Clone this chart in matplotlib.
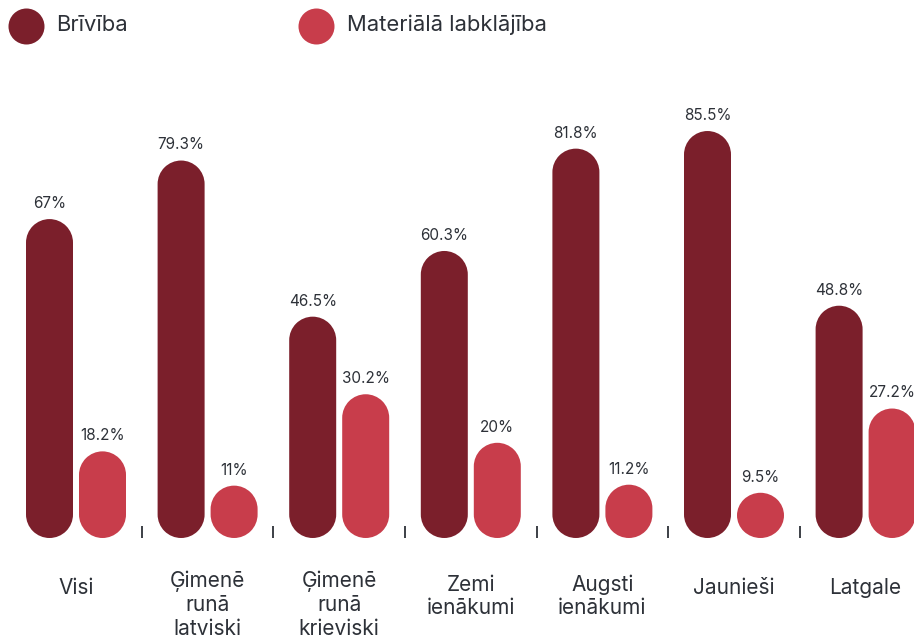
"""
Brīvība vs materiālā labklājība, pill-shaped grouped bars
"""
import matplotlib
matplotlib.use("Agg")
import matplotlib.pyplot as plt
import numpy as np
from matplotlib.patches import PathPatch
from matplotlib.path import Path
from matplotlib.transforms import Affine2D

plt.rcParams['font.family'] = ['Inter', 'DejaVu Sans']

categories = ['Visi', 'Ģimenē\nrunā\nlatviski', 'Ģimenē\nrunā\nkrieviski',
              'Zemi\nienākumi', 'Augsti\nienākumi', 'Jaunieši', 'Latgale']
briviba = [67, 79.3, 46.5, 60.3, 81.8, 85.5, 48.8]
labklajiba = [18.2, 11, 30.2, 20, 11.2, 9.5, 27.2]
briviba_labels = ['67%', '79.3%', '46.5%', '60.3%', '81.8%', '85.5%', '48.8%']
labklajiba_labels = ['18.2%', '11%', '30.2%', '20%', '11.2%', '9.5%', '27.2%']
series_names = ['Brīvība', 'Materiālā labklājība']

dark = '#7b1f2b'
light = '#c83d4b'
txt = '#2d3138'

W, H = 914, 643
fig = plt.figure(figsize=(W / 100, H / 100), dpi=100)
ax = fig.add_axes([0, 0, 1, 1])
ax.axis('off')

# pixel layout: group pitch 131.6px, 4.76px per percent, baseline 105px from bottom
gx0, gstep, ypx, base = 76, 131.6, 4.76, 105
ax.set_xlim(-gx0 / gstep, (W - gx0) / gstep)
ax.set_ylim(-base / ypx, (H - base) / ypx)

bw = 47 / gstep          # bar width in group units
off = 26.5 / gstep       # bar centre offset
ry = 23.5 / ypx          # cap radius in percent units


def pill(x, v, color):
    # one closed path: top half-ellipse + bottom half-ellipse
    eh = min(2 * ry, v) / 2
    top = Path.arc(0, 180).transformed(
        Affine2D().scale(bw / 2, eh).translate(x, v - eh))
    bot = Path.arc(180, 360).transformed(
        Affine2D().scale(bw / 2, eh).translate(x, eh))
    verts = np.concatenate([top.vertices, bot.vertices, top.vertices[:1]])
    codes = np.concatenate([top.codes, bot.codes, [Path.CLOSEPOLY]])
    codes[len(top.codes)] = Path.LINETO
    ax.add_patch(PathPatch(Path(verts, codes), fc=color, ec='none'))


for i in range(len(categories)):
    for v, lab, dx, col in [(briviba[i], briviba_labels[i], -off, dark),
                            (labklajiba[i], labklajiba_labels[i], off, light)]:
        pill(i + dx, v, col)
        ax.annotate(lab, (i + dx, v), xytext=(0, 8), textcoords='offset points',
                    ha='center', va='baseline', fontsize=11, color=txt)
    nl = categories[i].count('\n')
    ax.annotate(categories[i], (i, 0), xytext=(0, -40 - nl * 20.5 * 0.72),
                textcoords='offset points', ha='center', va='baseline',
                fontsize=15, color=txt, linespacing=1.2)

# small separators between groups
seps = [i + 0.5 for i in range(len(categories) - 1)]
ax.vlines(seps, 0, 12 / ypx, color=txt, lw=1.3)

# legend
for cx, tx, col, name in [(26, 56, dark, series_names[0]),
                          (316, 347, light, series_names[1])]:
    ax.scatter([cx / W], [1 - 26 / H], s=(36 * 0.72) ** 2, color=col,
               transform=ax.transAxes, clip_on=False, linewidths=0)
    ax.text(tx / W, 1 - 25 / H, name, transform=ax.transAxes, ha='left',
            va='center', fontsize=15.8, color=txt)

fig.savefig('out.png', dpi=100)
